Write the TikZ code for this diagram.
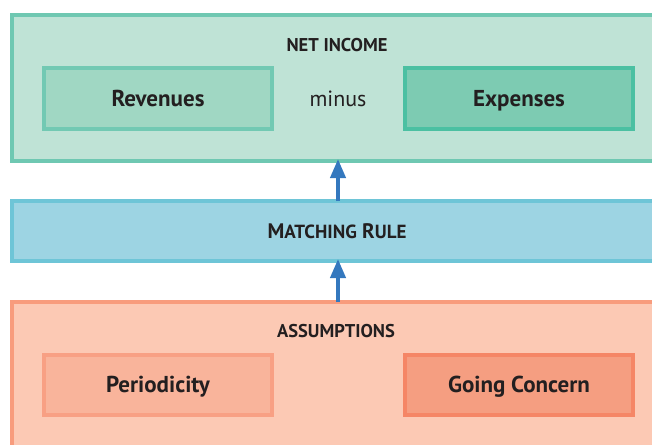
\documentclass[tikz,border=0pt]{standalone}
\usepackage{fontspec}
\setmainfont{PT Sans}
\usetikzlibrary{arrows.meta}

\definecolor{niFill}{RGB}{191,227,214}
\definecolor{niLine}{RGB}{111,200,178}
\definecolor{revFill}{RGB}{160,215,195}
\definecolor{revLine}{RGB}{114,201,179}
\definecolor{expFill}{RGB}{125,203,178}
\definecolor{expLine}{RGB}{75,192,162}
\definecolor{mrFill}{RGB}{157,212,227}
\definecolor{mrLine}{RGB}{110,197,215}
\definecolor{asFill}{RGB}{252,201,180}
\definecolor{asLine}{RGB}{248,156,125}
\definecolor{perFill}{RGB}{249,180,155}
\definecolor{perLine}{RGB}{248,160,132}
\definecolor{gcFill}{RGB}{245,158,129}
\definecolor{gcLine}{RGB}{245,134,102}
\definecolor{arrowBlue}{RGB}{52,120,190}
\definecolor{txt}{RGB}{35,31,32}

\tikzset{
  panel/.style={draw, line width=4pt, inner sep=0pt, outer sep=0pt},
  itembox/.style={panel, minimum width=228pt, text=txt, text height=16pt, text depth=1pt,
    font=\fontsize{23}{26}\selectfont\bfseries},
  heading/.style={text=txt, font=\fontsize{18.5}{22}\selectfont\bfseries},
  uparrow/.style={draw=arrowBlue, line width=4pt,
    -{Triangle[length=19pt,width=15pt]}, shorten >=-2pt}
}

\begin{document}
\begin{tikzpicture}[x=1pt, y=-1pt]
    \useasboundingbox (0,0) rectangle (652,444);
    \clip (0,0) rectangle (652,444);

    % net income
    \node[panel, fill=niFill, draw=niLine, minimum width=658pt, minimum height=146pt] (ni) at (341,88) {};
    \node[heading] (nit) at (337,45) {NET INCOME};
    \node[itembox, fill=revFill, draw=revLine, minimum height=61pt] (rev) at (158,98.5) {Revenues};
    \node[itembox, fill=expFill, draw=expLine, minimum height=61pt] (exp) at (519,98.5) {Expenses};
    \node[text=txt, text height=16pt, text depth=1pt, font=\fontsize{22}{26}\selectfont] (minus) at (338,98.5) {minus};

    % matching rule
    \node[panel, fill=mrFill, draw=mrLine, minimum width=658pt, minimum height=60pt, text=txt,
          text height=15pt, text depth=1pt, font=\fontsize{21}{24}\selectfont\bfseries] (mr) at (341,231)
          {\hspace*{-8pt}M{\fontsize{19}{22}\selectfont ATCHING} R{\fontsize{19}{22}\selectfont ULE}};

    % assumptions
    \node[panel, fill=asFill, draw=asLine, minimum width=658pt, minimum height=160pt] (as) at (341,382) {};
    \node[heading] (ast) at (336,331) {ASSUMPTIONS};
    \node[itembox, fill=perFill, draw=perLine, minimum height=60pt] (per) at (158,385) {Periodicity};
    \node[itembox, fill=gcFill, draw=gcLine, minimum height=60pt] (gc) at (519,385) {Going Concern};

    \draw[uparrow] (as.north -| 338,0) -- (mr.south -| 338,0);
    \draw[uparrow] (mr.north -| 338,0) -- (ni.south -| 338,0);
\end{tikzpicture}
\end{document}
